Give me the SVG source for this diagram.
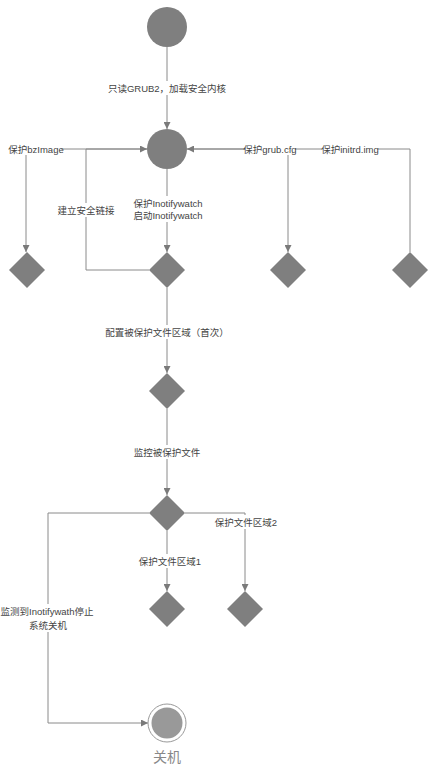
<svg xmlns="http://www.w3.org/2000/svg" width="435" height="767" viewBox="0 0 435 767">
<style>
.n{fill:#7f7f7f;stroke:none}
.e{fill:none;stroke:#8a8a8a;stroke-width:1}
.t{font-family:"Liberation Sans","Noto Sans CJK SC",sans-serif;font-size:9.5px;fill:#444;text-anchor:middle;dominant-baseline:central}
.bg{fill:#fff}
</style>
<defs>
<marker id="a" viewBox="0 0 8 8" refX="8" refY="4" markerWidth="7" markerHeight="7" orient="auto" markerUnits="userSpaceOnUse">
<path d="M0,0 L8,4 L0,8 z" fill="#7a7a7a"/>
</marker>
</defs>
<rect width="435" height="767" fill="#fff"/>
<g id="connectors">
<path class="e" d="M167,47 V129" marker-end="url(#a)"/>
<path class="e" d="M147,149 H26 V252" marker-end="url(#a)"/>
<path class="e" d="M149,270 H86 V149 H147" marker-end="url(#a)"/>
<path class="e" d="M167,169 V252" marker-end="url(#a)"/>
<path class="e" d="M187,149 H288 V252" marker-end="url(#a)"/>
<path class="e" d="M410,252 V149 H187" marker-end="url(#a)"/>
<path class="e" d="M167,288 V373" marker-end="url(#a)"/>
<path class="e" d="M167,409 V495" marker-end="url(#a)"/>
<path class="e" d="M167,531 V591" marker-end="url(#a)"/>
<path class="e" d="M185,513 H245 V591" marker-end="url(#a)"/>
<path class="e" d="M149,513 H48 V723 H148" marker-end="url(#a)"/>
</g>
<g id="labels">
<rect class="bg" x="106" y="81" width="123" height="14"/>
<text class="t" x="167" y="88">只读GRUB2，加载安全内核</text>
<rect class="bg" x="11" y="143" width="50" height="12"/>
<text class="t" x="36" y="149">保护bzImage</text>
<rect class="bg" x="57" y="203" width="58" height="14"/>
<text class="t" x="86" y="210">建立安全链接</text>
<rect class="bg" x="134" y="196" width="67" height="26"/>
<text class="t" x="168" y="203">保护Inotifywatch</text>
<text class="t" x="168" y="215">启动Inotifywatch</text>
<rect class="bg" x="245" y="143" width="50" height="12"/>
<text class="t" x="270" y="149">保护grub.cfg</text>
<rect class="bg" x="322" y="143" width="56" height="12"/>
<text class="t" x="350" y="149">保护initrd.img</text>
<rect class="bg" x="106" y="325" width="122" height="14"/>
<text class="t" x="167" y="332">配置被保护文件区域（首次）</text>
<rect class="bg" x="133" y="445" width="68" height="14"/>
<text class="t" x="167" y="452">监控被保护文件</text>
<rect class="bg" x="135" y="554" width="70" height="14"/>
<text class="t" x="170" y="561">保护文件区域1</text>
<rect class="bg" x="214" y="515" width="63" height="14"/>
<text class="t" x="246" y="522">保护文件区域2</text>
<rect class="bg" x="2" y="604" width="92" height="28"/>
<text class="t" x="47" y="611">监测到Inotifywath停止</text>
<text class="t" x="48" y="625">系统关机</text>
</g>
<g id="start"><circle class="n" cx="167" cy="27" r="20"/></g>
<g id="kernel"><circle class="n" cx="167" cy="149" r="20"/></g>
<g id="bzimage"><path class="n" d="M27,252 L45,270 L27,288 L9,270 z"/></g>
<g id="inotify"><path class="n" d="M167,252 L185,270 L167,288 L149,270 z"/></g>
<g id="grubcfg"><path class="n" d="M288,252 L306,270 L288,288 L270,270 z"/></g>
<g id="initrd"><path class="n" d="M410,252 L428,270 L410,288 L392,270 z"/></g>
<g id="config"><path class="n" d="M167,373 L185,391 L167,409 L149,391 z"/></g>
<g id="monitor"><path class="n" d="M167,495 L185,513 L167,531 L149,513 z"/></g>
<g id="region1"><path class="n" d="M167,591 L185,609 L167,627 L149,609 z"/></g>
<g id="region2"><path class="n" d="M245,591 L263,609 L245,627 L227,609 z"/></g>
<g id="end">
<circle cx="167" cy="723" r="19" fill="#fff" stroke="#999" stroke-width="1"/>
<circle cx="167" cy="723" r="15.5" fill="#999"/>
<text x="167" y="757" font-family="Liberation Sans,'Noto Sans CJK SC',sans-serif" font-size="14" fill="#888" text-anchor="middle" dominant-baseline="central">关机</text>
</g>
</svg>
